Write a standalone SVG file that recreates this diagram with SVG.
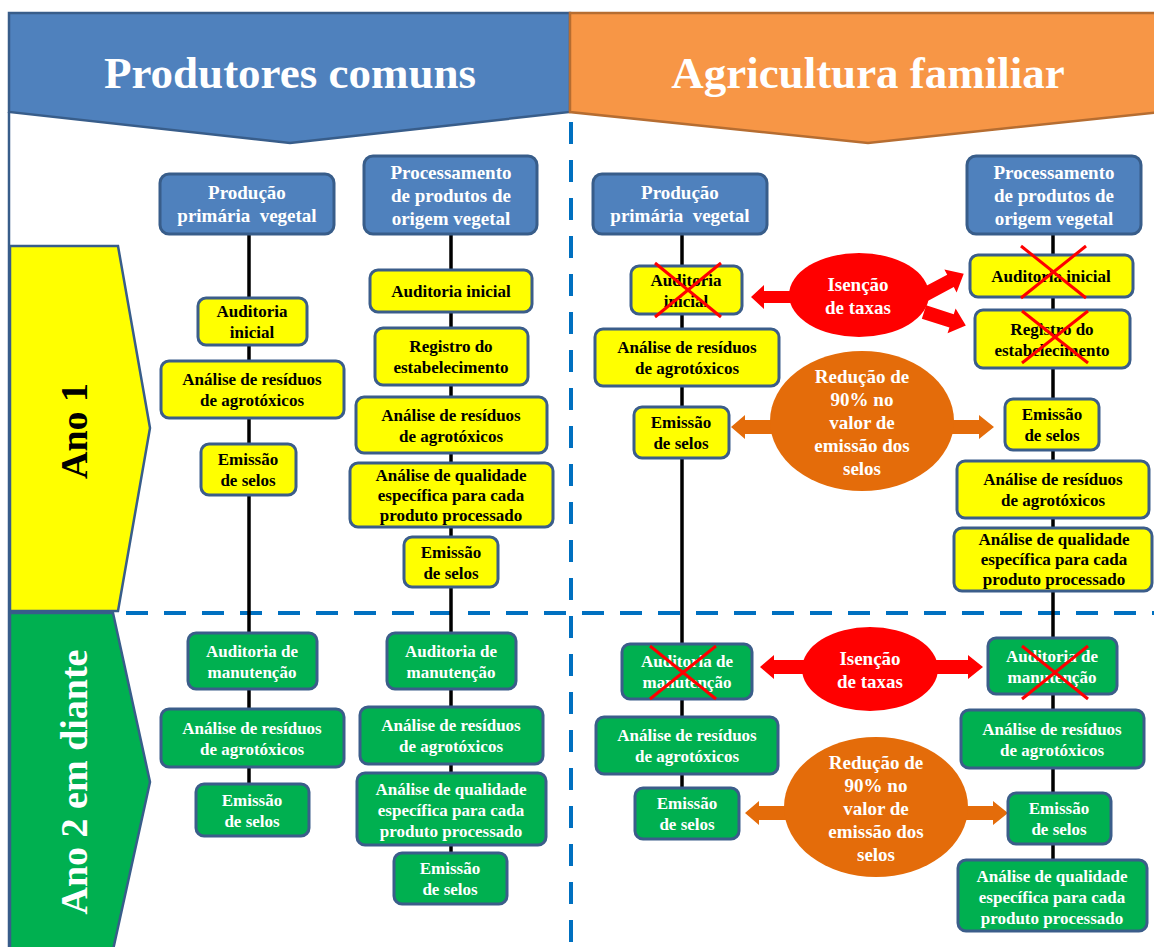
<svg xmlns="http://www.w3.org/2000/svg" width="1154" height="947" viewBox="0 0 1154 947">
<style>
text{font-family:"Liberation Serif","Times New Roman",serif;font-weight:bold;text-anchor:middle;white-space:pre}
.hd rect{fill:#4f81bd;stroke:#385d8a;stroke-width:3}
.hd text{fill:#fff;font-size:19px}
.y rect{fill:#ffff00;stroke:#3b5d8a;stroke-width:3}
.y text{fill:#000;font-size:17px}
.g rect{fill:#00b050;stroke:#3b5d8a;stroke-width:3}
.g text{fill:#fff;font-size:17px}
.el text{fill:#fff;font-size:19px}
.x{stroke:#ff0000;stroke-width:3}
.vl{stroke:#000;stroke-width:3.5}
.dash{stroke:#0070c0;stroke-width:4;stroke-dasharray:22 16;fill:none}
.ra{fill:#ff0000}
.oa{fill:#e46c0a}
</style>
<rect width="1154" height="947" fill="#fff"/>
<g id="header-left">
<polygon points="9,13 570,13 570,112 290,143 9,112" fill="#4f81bd" stroke="#385d8a" stroke-width="2.5"/>
<text x="290" y="88" font-size="45" fill="#fff">Produtores comuns</text>
</g>
<g id="header-right">
<polygon points="570,13 1160,13 1160,112 868,143 570,112" fill="#f79646" stroke="#b66d31" stroke-width="2.5"/>
<text x="868" y="88" font-size="45" fill="#fff">Agricultura familiar</text>
</g>
<line x1="9" y1="112" x2="9" y2="947" stroke="#385d8a" stroke-width="2.5"/>
<g id="row-ano1">
<polygon points="10,246 118,246 150,428 118,611 10,611" fill="#ffff00" stroke="#385d8a" stroke-width="2.5"/>
<text transform="translate(87,431) rotate(-90)" font-size="38" fill="#000">Ano 1</text>
</g>
<g id="row-ano2">
<polygon points="10,613 113,613 150,782 113,950 10,950" fill="#00b050" stroke="#385d8a" stroke-width="2.5"/>
<text transform="translate(87,782) rotate(-90)" font-size="38" fill="#fff">Ano 2 em diante</text>
</g>
<g id="dividers">
<line class="dash" x1="571" y1="122" x2="571" y2="947"/>
<line class="dash" x1="126" y1="613" x2="1154" y2="613"/>
</g>
<g id="connectors">
<line class="vl" x1="249" y1="234" x2="249" y2="784"/>
<line class="vl" x1="451" y1="234" x2="451" y2="853"/>
<line class="vl" x1="682" y1="234" x2="682" y2="788"/>
<line class="vl" x1="1053" y1="234" x2="1053" y2="860"/>
<polygon class="ra" points="792,291 764,291 764,285 751,297 764,309 764,303 792,303"/>
<polygon class="ra" transform="translate(924,295) rotate(-28)" points="0,-7 30,-7 30,-13 45,0 30,13 30,7 0,7"/>
<polygon class="ra" transform="translate(924,312) rotate(18)" points="0,-7 29,-7 29,-13 44,0 29,13 29,7 0,7"/>
<polygon class="oa" points="772,420 745,420 745,415 731,427 745,439 745,434 772,434"/>
<polygon class="oa" points="952,420 979,420 979,415 994,427 979,439 979,434 952,434"/>
<polygon class="ra" points="804,660 774,660 774,655 760,667 774,679 774,674 804,674"/>
<polygon class="ra" points="936,660 968,660 968,655 983,667 968,679 968,674 936,674"/>
<polygon class="oa" points="787,806 759,806 759,801 745,813 759,825 759,820 787,820"/>
<polygon class="oa" points="966,806 993,806 993,801 1008,813 993,825 993,820 966,820"/>
</g>
<g id="h-prod1" class="hd"><rect x="160" y="174" width="174" height="60" rx="9"/><text x="247" y="199">Produção</text><text x="247" y="222">primária  vegetal</text></g>
<g id="h-proc1" class="hd"><rect x="364" y="156" width="173" height="78" rx="9"/><text x="451" y="179">Processamento</text><text x="451" y="202">de produtos de</text><text x="451" y="225">origem vegetal</text></g>
<g id="h-prod2" class="hd"><rect x="593" y="174" width="174" height="60" rx="9"/><text x="680" y="199">Produção</text><text x="680" y="222">primária  vegetal</text></g>
<g id="h-proc2" class="hd"><rect x="967" y="156" width="174" height="78" rx="9"/><text x="1054" y="179">Processamento</text><text x="1054" y="202">de produtos de</text><text x="1054" y="225">origem vegetal</text></g>
<g id="a1" class="y"><rect x="198" y="298" width="109" height="47" rx="8"/><text x="252" y="317">Auditoria</text><text x="252" y="338">inicial</text></g>
<g id="a2" class="y"><rect x="161" y="361" width="183" height="57" rx="8"/><text x="252" y="385">Análise de resíduos</text><text x="252" y="406">de agrotóxicos</text></g>
<g id="a3" class="y"><rect x="201" y="444" width="95" height="51" rx="8"/><text x="248" y="465">Emissão</text><text x="248" y="486">de selos</text></g>
<g id="b1" class="y"><rect x="370" y="270" width="162" height="42" rx="8"/><text x="451" y="297">Auditoria inicial</text></g>
<g id="b2" class="y"><rect x="375" y="328" width="153" height="57" rx="8"/><text x="451" y="352">Registro do</text><text x="451" y="373">estabelecimento</text></g>
<g id="b3" class="y"><rect x="356" y="397" width="191" height="56" rx="8"/><text x="451" y="421">Análise de resíduos</text><text x="451" y="442">de agrotóxicos</text></g>
<g id="b4" class="y"><rect x="350" y="463" width="203" height="64" rx="8"/><text x="451" y="481">Análise de qualidade</text><text x="451" y="501">específica para cada</text><text x="451" y="521">produto processado</text></g>
<g id="b5" class="y"><rect x="404" y="537" width="94" height="50" rx="8"/><text x="451" y="558">Emissão</text><text x="451" y="579">de selos</text></g>
<g id="c1" class="y"><rect x="631" y="266" width="111" height="48" rx="8"/><text x="686" y="286">Auditoria</text><text x="686" y="307">inicial</text></g>
<g id="c2" class="y"><rect x="595" y="329" width="184" height="57" rx="8"/><text x="687" y="353">Análise de resíduos</text><text x="687" y="374">de agrotóxicos</text></g>
<g id="c3" class="y"><rect x="634" y="407" width="95" height="51" rx="8"/><text x="681" y="428">Emissão</text><text x="681" y="449">de selos</text></g>
<g id="d1" class="y"><rect x="970" y="255" width="163" height="42" rx="8"/><text x="1051" y="282">Auditoria inicial</text></g>
<g id="d2" class="y"><rect x="975" y="310" width="155" height="58" rx="8"/><text x="1052" y="335">Registro do</text><text x="1052" y="356">estabelecimento</text></g>
<g id="d3" class="y"><rect x="1005" y="399" width="94" height="51" rx="8"/><text x="1052" y="420">Emissão</text><text x="1052" y="441">de selos</text></g>
<g id="d4" class="y"><rect x="957" y="461" width="192" height="57" rx="8"/><text x="1053" y="485">Análise de resíduos</text><text x="1053" y="506">de agrotóxicos</text></g>
<g id="d5" class="y"><rect x="954" y="528" width="198" height="63" rx="8"/><text x="1054" y="545">Análise de qualidade</text><text x="1054" y="565">específica para cada</text><text x="1054" y="585">produto processado</text></g>
<g id="e1" class="g"><rect x="188" y="633" width="129" height="56" rx="8"/><text x="252" y="657">Auditoria de</text><text x="252" y="678">manutenção</text></g>
<g id="e2" class="g"><rect x="161" y="709" width="183" height="58" rx="8"/><text x="252" y="734">Análise de resíduos</text><text x="252" y="755">de agrotóxicos</text></g>
<g id="e3" class="g"><rect x="196" y="784" width="113" height="52" rx="8"/><text x="252" y="806">Emissão</text><text x="252" y="827">de selos</text></g>
<g id="f1" class="g"><rect x="387" y="633" width="129" height="56" rx="8"/><text x="451" y="657">Auditoria de</text><text x="451" y="678">manutenção</text></g>
<g id="f2" class="g"><rect x="360" y="707" width="183" height="57" rx="8"/><text x="451" y="731">Análise de resíduos</text><text x="451" y="752">de agrotóxicos</text></g>
<g id="f3" class="g"><rect x="357" y="773" width="189" height="72" rx="8"/><text x="451" y="795">Análise de qualidade</text><text x="451" y="816">específica para cada</text><text x="451" y="837">produto processado</text></g>
<g id="f4" class="g"><rect x="394" y="853" width="113" height="51" rx="8"/><text x="450" y="874">Emissão</text><text x="450" y="895">de selos</text></g>
<g id="g1" class="g"><rect x="622" y="644" width="130" height="55" rx="8"/><text x="687" y="667">Auditoria de</text><text x="687" y="688">manutenção</text></g>
<g id="g2" class="g"><rect x="596" y="717" width="182" height="57" rx="8"/><text x="687" y="741">Análise de resíduos</text><text x="687" y="762">de agrotóxicos</text></g>
<g id="g3" class="g"><rect x="635" y="788" width="104" height="51" rx="8"/><text x="687" y="809">Emissão</text><text x="687" y="830">de selos</text></g>
<g id="h1" class="g"><rect x="988" y="638" width="129" height="56" rx="8"/><text x="1052" y="662">Auditoria de</text><text x="1052" y="683">manutenção</text></g>
<g id="h2" class="g"><rect x="961" y="710" width="183" height="58" rx="8"/><text x="1052" y="735">Análise de resíduos</text><text x="1052" y="756">de agrotóxicos</text></g>
<g id="h3" class="g"><rect x="1008" y="793" width="103" height="51" rx="8"/><text x="1059" y="814">Emissão</text><text x="1059" y="835">de selos</text></g>
<g id="h4" class="g"><rect x="958" y="860" width="189" height="71" rx="8"/><text x="1052" y="882">Análise de qualidade</text><text x="1052" y="903">específica para cada</text><text x="1052" y="924">produto processado</text></g>
<g id="isencao1" class="el"><ellipse cx="859" cy="295" rx="70" ry="42" fill="#ff0000"/><text x="858" y="291">Isenção</text><text x="858" y="314">de taxas</text></g>
<g id="reducao1" class="el"><ellipse cx="862" cy="421" rx="92" ry="70" fill="#e46c0a"/><text x="862" y="383">Redução de</text><text x="862" y="406">90% no</text><text x="862" y="429">valor de</text><text x="862" y="452">emissão dos</text><text x="862" y="475">selos</text></g>
<g id="isencao2" class="el"><ellipse cx="870" cy="669" rx="68" ry="42" fill="#ff0000"/><text x="870" y="665">Isenção</text><text x="870" y="688">de taxas</text></g>
<g id="reducao2" class="el"><ellipse cx="876" cy="807" rx="92" ry="70" fill="#e46c0a"/><text x="876" y="769">Redução de</text><text x="876" y="792">90% no</text><text x="876" y="815">valor de</text><text x="876" y="838">emissão dos</text><text x="876" y="861">selos</text></g>
<g id="crosses">
<line class="x" x1="655" y1="263" x2="721" y2="317"/><line class="x" x1="721" y1="263" x2="655" y2="317"/>
<line class="x" x1="1021" y1="246" x2="1086" y2="298"/><line class="x" x1="1086" y1="246" x2="1021" y2="298"/>
<line class="x" x1="1022" y1="311" x2="1088" y2="363"/><line class="x" x1="1088" y1="311" x2="1022" y2="363"/>
<line class="x" x1="650" y1="646" x2="716" y2="699"/><line class="x" x1="716" y1="646" x2="650" y2="699"/>
<line class="x" x1="1022" y1="646" x2="1088" y2="699"/><line class="x" x1="1088" y1="646" x2="1022" y2="699"/>
</g>
</svg>
